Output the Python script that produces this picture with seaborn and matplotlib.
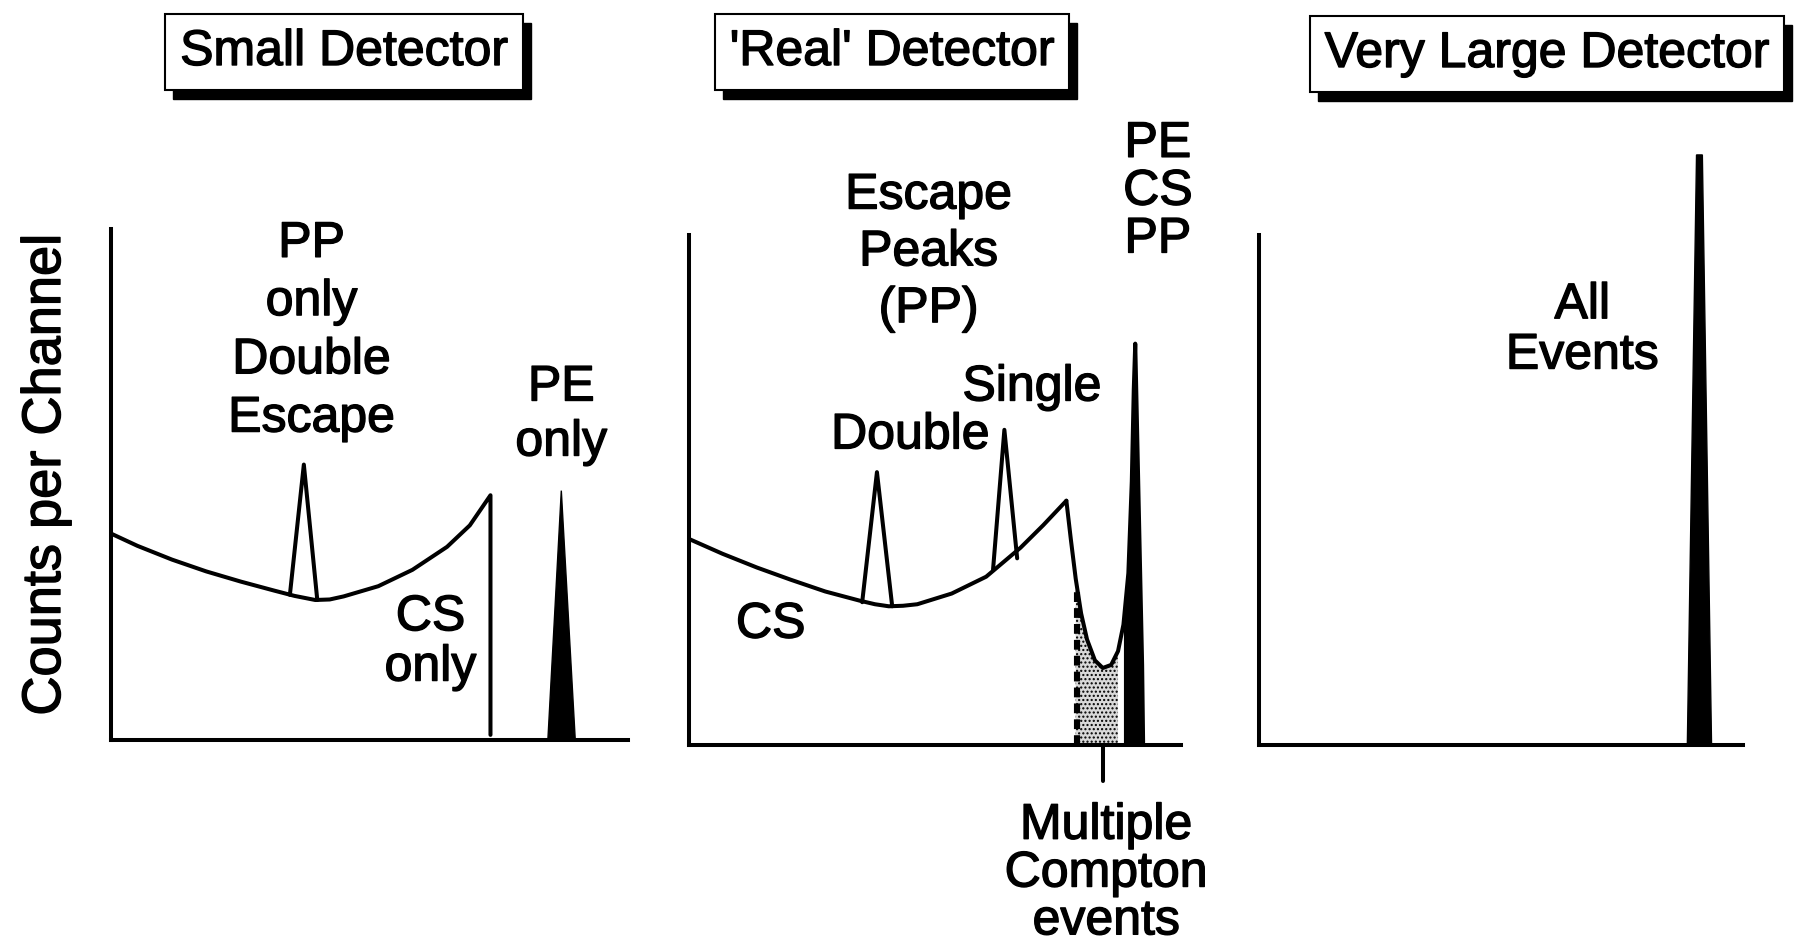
import numpy as np
import matplotlib
matplotlib.use("Agg")
import matplotlib.pyplot as plt
import matplotlib.patches as mpatches
import matplotlib.patheffects as pe
import seaborn as sns

sns.set_style("white")
plt.rcParams['font.family'] = ['Liberation Sans', 'DejaVu Sans']
plt.rcParams['text.color'] = 'black'

# ---------------- small detector (channel 0-100, counts 0-100) ----------------
small_cont_ch = [0, 5.1, 11.8, 18.4, 25.1, 31.7, 35.5, 39.5, 42.3, 45.0, 51.7, 58.3,
                 65.0, 69.4, 73.4, 73.4]
small_cont_counts = [40.4, 38.0, 35.3, 33.0, 31.0, 29.2, 28.2, 27.4, 27.5, 28.1, 30.1, 33.3,
                     37.8, 42.0, 47.9, 1.0]
small_pp_ch = [34.6, 37.3, 39.9]
small_pp_counts = [28.4, 53.9, 27.4]
small_pe_ch = [84.5, 87.1, 89.8]
small_pe_counts = [0, 48.8, 0]

# ---------------- 'real' detector ----------------
real_cont_ch = [0, 6.8, 13.8, 20.7, 27.7, 34.7, 37.8, 40.6, 43.5, 46.4, 53.4, 60.4,
                67.4, 72.0, 76.7]
real_cont_counts = [40.4, 37.5, 34.8, 32.4, 30.1, 28.3, 27.6, 27.2, 27.3, 27.6, 29.7, 33.0,
                    38.7, 43.1, 47.9]
real_tail_ch = [76.7, 77.6, 78.6, 79.7, 80.9, 82.5, 84.1, 85.8, 87.2, 88.3, 89.3,
                90.0, 90.4, 90.7, 91.1, 91.6, 92.1, 92.3]
real_tail_counts = [47.9, 40.4, 32.6, 25.8, 20.7, 16.6, 15.1, 15.7, 18.4, 23.6, 33.7,
                    51.7, 69.7, 78.7, 60.7, 38.2, 15.7, 0.5]
real_double_ch = [35.2, 38.2, 41.3]
real_double_counts = [28.0, 53.5, 27.2]
real_single_ch = [61.8, 64.1, 66.7]
real_single_counts = [34.4, 61.8, 36.6]
multi_start = 78.8   # left edge of multiple compton region
pe_start = 88.0      # where the full energy peak begins
multi_mark = 84.1

# ---------------- very large detector ----------------
large_pe_ch = [88.5, 90.4, 91.6, 93.5]
large_pe_counts = [0, 115.7, 115.7, 0]

titles = ["Small Detector", "'Real' Detector", "Very Large Detector"]

LW = 2.9
fig = plt.figure(figsize=(17.98, 9.46), dpi=100)

# axes boxes in pixels: left, right, top, bottom
boxes = [(111, 628, 229, 740), (689, 1181, 235, 745), (1259, 1743, 235, 745)]
axes = []
for (l, r, t, b) in boxes:
    ax = fig.add_axes([l / 1798, 1 - b / 946, (r - l) / 1798, (b - t) / 946])
    ax.set_xlim(0, 100)
    ax.set_ylim(0, 100)
    ax.set_xticks([])
    ax.set_yticks([])
    for s in ["top", "right"]:
        ax.spines[s].set_visible(False)
    for s in ["left", "bottom"]:
        ax.spines[s].set_linewidth(LW)
        ax.spines[s].set_color("black")
    ax.patch.set_alpha(0)
    axes.append(ax)

def line(ax, x, y):
    sns.lineplot(x=x, y=y, sort=False, estimator=None, color="black",
                 linewidth=LW, ax=ax, clip_on=False,
                 solid_joinstyle="round", solid_capstyle="round")

fs = 36
heavy = [pe.withStroke(linewidth=1.0, foreground="black")]
kw = dict(ha="center", va="center", fontsize=fs, color="black", path_effects=heavy)

# ---- panel 1
ax = axes[0]
line(ax, small_cont_ch, small_cont_counts)
line(ax, small_pp_ch, small_pp_counts)
ax.fill(small_pe_ch, small_pe_counts, color="black", lw=1)
ax.text(38.8, 80.0, "PP\nonly\nDouble\nEscape", linespacing=1.34, **kw)
ax.text(87.1, 63.6, "PE\nonly", linespacing=1.25, **kw)
ax.text(61.8, 19.1, "CS\nonly", linespacing=1.12, **kw)

# ---- panel 2
ax = axes[1]
line(ax, real_cont_ch, real_cont_counts)
line(ax, real_tail_ch, real_tail_counts)
line(ax, real_double_ch, real_double_counts)
line(ax, real_single_ch, real_single_counts)
tx = np.array(real_tail_ch)
ty = np.array(real_tail_counts)
ax.fill_between(tx, 0, ty, where=(tx >= multi_start - 0.5) & (tx <= pe_start + 0.1),
                facecolor="#d9d9d9", edgecolor="black", hatch="....", lw=0)
ax.fill_between(tx, 0, ty, where=tx >= pe_start, color="black", lw=0)
h_edge = np.interp(multi_start, tx, ty)
ax.plot([multi_start, multi_start], [0, h_edge - 1], color="black", lw=LW + 1.5,
        ls=(0, (1.6, 1.0)))
ax.plot([multi_mark, multi_mark], [0, -7], color="black", lw=LW, clip_on=False)
ax.text(48.7, 96.6, "Escape\nPeaks\n(PP)", linespacing=1.3, **kw)
ax.text(69.7, 70.1, "Single", **kw)
ax.text(45.0, 60.7, "Double", **kw)
ax.text(16.6, 23.6, "CS", **kw)
ax.text(95.3, 108.5, "PE\nCS\nPP", linespacing=1.05, **kw)
ax.text(84.8, -25.2, "Multiple\nCompton\nevents", linespacing=1.05, **kw)

# ---- panel 3
ax = axes[2]
ax.fill(large_pe_ch, large_pe_counts, color="black", lw=1, clip_on=False)
ax.text(66.8, 81.3, "All\nEvents", linespacing=1.12, **kw)

# ---- title boxes with drop shadow
title_pos = [(344, 52), (892, 52), (1547, 54)]
title_txt = []
for t, (px, py) in zip(titles, title_pos):
    tt = fig.text(px / 1798, 1 - py / 946, t, zorder=5,
                  bbox=dict(boxstyle="square,pad=0.3", fc="white", ec="black", lw=1.5),
                  **kw)
    title_txt.append(tt)

fig.text(46 / 1798, 1 - 475 / 946, "Counts per Channel", rotation=90,
         ha="center", va="center", fontsize=39, color="black", path_effects=heavy)

fig.canvas.draw()
for tt in title_txt:
    bb = tt.get_bbox_patch().get_window_extent()
    sh = mpatches.Rectangle((bb.x0 + 8, bb.y0 - 9), bb.width, bb.height,
                            transform=None, facecolor="black", edgecolor="black",
                            zorder=4)
    fig.patches.append(sh)

fig.savefig("out.png", dpi=100)
